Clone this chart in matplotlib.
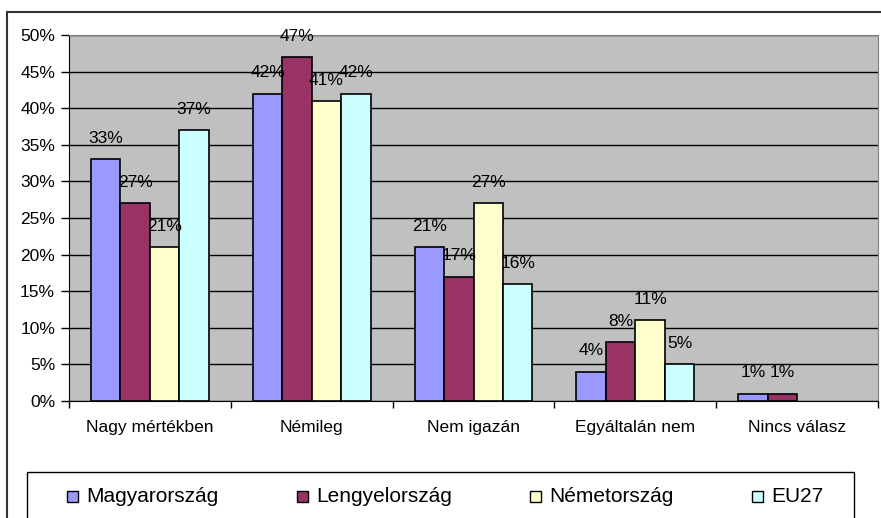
import numpy as np
import matplotlib.pyplot as plt
from matplotlib.patches import Rectangle

plt.rcParams['font.family'] = ['Liberation Sans', 'DejaVu Sans']

categories = ["Nagy mértékben", "Némileg", "Nem igazán", "Egyáltalán nem", "Nincs válasz"]
series = ["Magyarország", "Lengyelország", "Németország", "EU27"]
colors = ["#9999FF", "#993366", "#FFFFCC", "#CCFFFF"]
magyar = [33, 42, 21, 4, 1]
lengyel = [27, 47, 17, 8, 1]
nemet = [21, 41, 27, 11, 0]
eu27 = [37, 42, 16, 5, 0]
values = [magyar, lengyel, nemet, eu27]

fig = plt.figure(figsize=(8.81, 5.18), dpi=100)
ax = fig.add_axes([69 / 881, 117 / 518, 809 / 881, 366 / 518])
ax.set_facecolor("#C0C0C0")

x = np.arange(len(categories))
w = 1 / 5.5
for i, (name, vals, c) in enumerate(zip(series, values, colors)):
    pos = x + (i - 1.5) * w
    lws = [1.2 if v > 0 else 0 for v in vals]
    ax.bar(pos, vals, w, color=c, edgecolor="black", linewidth=lws, zorder=3)
    for p, v in zip(pos, vals):
        if v > 0:
            ax.annotate(f"{v}%", (p, v), xytext=(0, 15), textcoords="offset points",
                        ha="center", va="center", fontsize=12.5, zorder=4)

ax.set_xlim(-0.5, len(categories) - 0.5)
ax.set_ylim(0, 50)
ax.set_yticks(range(0, 51, 5))
ax.set_yticklabels([f"{t}%" for t in range(0, 51, 5)], fontsize=12.5)
ax.yaxis.grid(True, color="black", linewidth=1, zorder=0)
ax.set_axisbelow(True)
ax.set_xticks(x)
ax.set_xticklabels(categories, fontsize=12.5)
ax.set_xticks(np.arange(len(categories) + 1) - 0.5, minor=True)
ax.tick_params(axis="x", which="major", length=0, pad=14)
ax.tick_params(axis="x", which="minor", length=5, width=1, color="black")
ax.tick_params(axis="y", length=6, width=1, pad=4)
ax.spines["left"].set_color("black")
ax.spines["bottom"].set_color("black")
ax.spines["top"].set_color("#808080")
ax.spines["right"].set_color("#808080")

# outer chart border
fig.patches.append(Rectangle((7 / 881, -0.1), 1.0, (518 - 12) / 518 + 0.1,
                             transform=fig.transFigure, fill=False,
                             edgecolor="#333333", linewidth=1.5))
# legend box
fig.patches.append(Rectangle((27 / 881, -0.1), 827 / 881, (518 - 472) / 518 + 0.1,
                             transform=fig.transFigure, fill=False,
                             edgecolor="black", linewidth=1))
leg_x = [67, 297, 530, 752]
ly = 518 - 496
for lx, name, c in zip(leg_x, series, colors):
    fig.patches.append(Rectangle((lx / 881, (ly - 6) / 518), 11 / 881, 11 / 518,
                                 transform=fig.transFigure, facecolor=c,
                                 edgecolor="black", linewidth=1))
    fig.text((lx + 19) / 881, ly / 518, name, fontsize=15, va="center", ha="left")

fig.savefig("out.png", dpi=100)
